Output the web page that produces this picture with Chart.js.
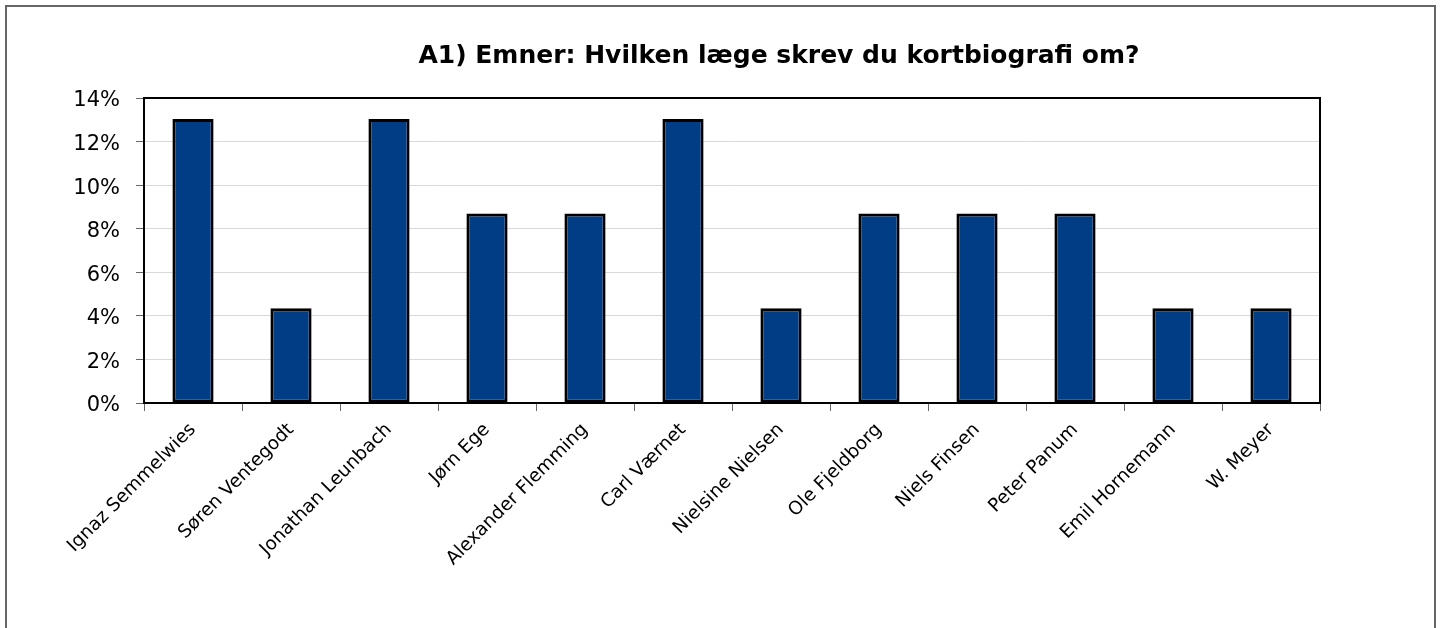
<!DOCTYPE html>
<html>
<head>
<meta charset="utf-8">
<script src="https://cdn.jsdelivr.net/npm/chart.js@4/dist/chart.umd.min.js"></script>
<style>
    body { margin: 0; background: #fff; overflow: hidden; }
    #wrap { position: relative; width: 1442px; height: 628px; }
</style>
</head>
<body>
<div id="wrap"><canvas id="grafico" width="1442" height="628"></canvas></div>
<script>
const titulo = 'A1) Emner: Hvilken læge skrev du kortbiografi om?'

const laeger = ['Ignaz Semmelwies', 'Søren Ventegodt', 'Jonathan Leunbach', 'Jørn Ege',
    'Alexander Flemming', 'Carl Værnet', 'Nielsine Nielsen', 'Ole Fjeldborg',
    'Niels Finsen', 'Peter Panum', 'Emil Hornemann', 'W. Meyer']

const andel = [0.1304, 0.0435, 0.1304, 0.0870, 0.0870, 0.1304, 0.0435, 0.0870,
    0.0870, 0.0870, 0.0435, 0.0435]

const fonte = '"DejaVu Sans"'

// ramme rundt om hele figuren, ramme om plotomraadet og titlen
const rammePlugin = {
    id: 'ramme',
    afterDraw(chart) {
        const ctx = chart.ctx
        const a = chart.chartArea
        ctx.save()
        ctx.strokeStyle = '#000'
        ctx.lineWidth = 2
        ctx.strokeRect(a.left, a.top, a.right - a.left, a.bottom - a.top)
        ctx.strokeStyle = '#666'
        ctx.lineWidth = 2
        ctx.strokeRect(6, 6, 1429, 640)
        ctx.fillStyle = '#000'
        ctx.font = 'bold 25px ' + fonte
        ctx.textAlign = 'center'
        ctx.textBaseline = 'middle'
        ctx.fillText(titulo, 779, 56)
        ctx.restore()
    }
}

const grafico = new Chart(document.getElementById('grafico'), {
    type: 'bar',
    data: {
        labels: laeger,
        datasets: [{
            data: andel,
            backgroundColor: '#003d85',
            borderColor: '#000',
            borderWidth: 3,
            borderSkipped: false,
            barPercentage: 0.42,
            categoryPercentage: 1
        }]
    },
    options: {
        responsive: false,
        animation: false,
        devicePixelRatio: 1,
        layout: { padding: { top: 98, right: 122, left: 0, bottom: 0 } },
        plugins: {
            legend: { display: false },
            title: { display: false },
            tooltip: { enabled: false }
        },
        scales: {
            x: {
                afterFit(scale) { scale.height = 225 },
                grid: {
                    offset: true,
                    drawOnChartArea: false,
                    drawTicks: true,
                    tickLength: 8,
                    tickColor: '#666'
                },
                border: { color: '#000', width: 2 },
                ticks: {
                    minRotation: 45,
                    maxRotation: 45,
                    autoSkip: false,
                    color: '#000',
                    padding: 8,
                    font: { size: 18.5, family: fonte }
                }
            },
            y: {
                min: 0,
                max: 0.14,
                afterFit(scale) { scale.width = 144 },
                grid: {
                    color: '#d9d9d9',
                    tickColor: '#666',
                    tickLength: 8
                },
                border: { color: '#000', width: 2 },
                ticks: {
                    stepSize: 0.02,
                    color: '#000',
                    padding: 16,
                    labelOffset: 3,
                    font: { size: 21, family: fonte },
                    callback: function (v) { return Math.round(v * 100) + '%' }
                }
            }
        }
    },
    plugins: [rammePlugin]
});
</script>
</body>
</html>
